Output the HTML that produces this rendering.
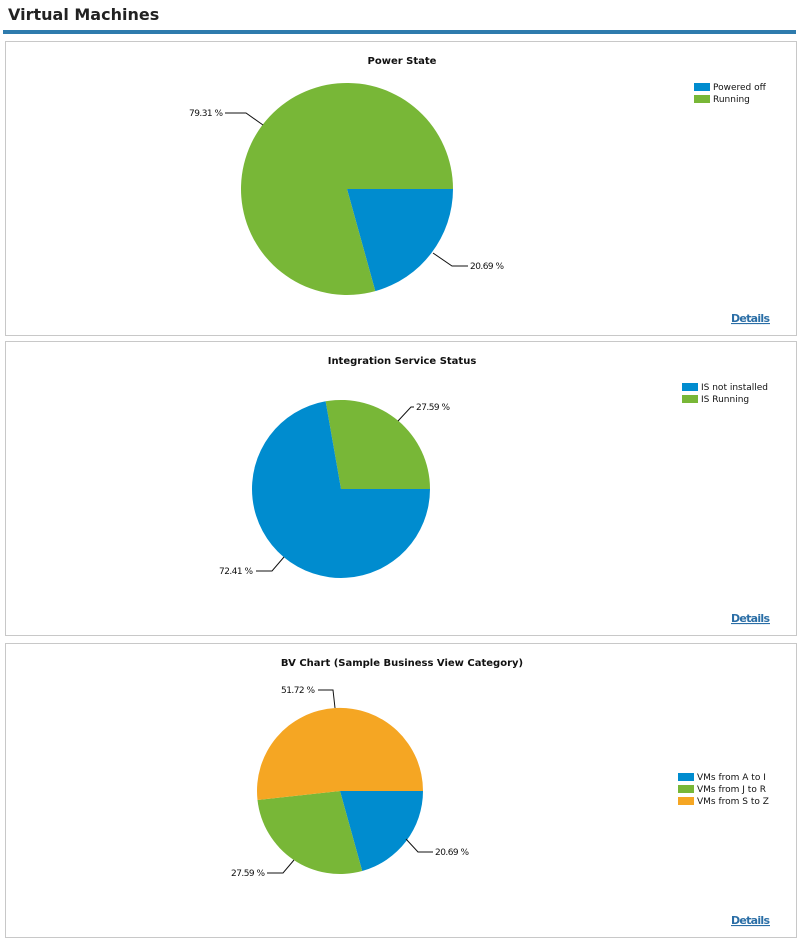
<!DOCTYPE html>
<html><head><meta charset="utf-8"><style>
body{margin:0;background:#fff;}
svg text{font-family:"DejaVu Sans","Liberation Sans",sans-serif;}
</style></head><body>
<svg width="800" height="942" xmlns="http://www.w3.org/2000/svg">
<text x="8" y="20" font-size="16" font-weight="bold" fill="#222" style="font-family:'DejaVu Sans',sans-serif">Virtual Machines</text>
<rect x="3" y="30" width="793" height="4" fill="#2e7bad"/>
<g fill="none" stroke="#c8c8c8">
<rect x="5.5" y="41.5" width="791" height="294"/>
<rect x="5.5" y="341.5" width="791" height="294"/>
<rect x="5.5" y="643.5" width="791" height="294"/>
</g>
<g font-size="10" font-weight="bold" fill="#111" text-anchor="middle">
<text x="402" y="64">Power State</text>
<text x="402" y="364">Integration Service Status</text>
<text x="402" y="666">BV Chart (Sample Business View Category)</text>
</g>
<path d="M347,189 L453,189 A106,106 0 0 1 375.3,291.1 Z" fill="#008ccf"/>
<path d="M347,189 L375.3,291.1 A106,106 0 1 1 453,189 Z" fill="#78b737"/>
<path d="M341,489 L430,489 A89,89 0 0 0 325.6,401.3 Z" fill="#78b737"/>
<path d="M341,489 L325.6,401.3 A89,89 0 1 0 430,489 Z" fill="#008ccf"/>
<path d="M340,791 L423,791 A83,83 0 0 1 362.2,871 Z" fill="#008ccf"/>
<path d="M340,791 L362.2,871 A83,83 0 0 1 257.5,800 Z" fill="#78b737"/>
<path d="M340,791 L257.5,800 A83,83 0 1 1 423,791 Z" fill="#f5a623"/>
<g fill="none" stroke="#111" stroke-width="1">
<polyline points="225,113 246,113 263,125"/>
<polyline points="433,253 452,266 468,266"/>
<polyline points="398,421 411,407 414,407"/>
<polyline points="256,571 272,571 284,557"/>
<polyline points="318,690 333,690 335,708"/>
<polyline points="406,839 418,852 433,852"/>
<polyline points="267,873 283,873 294,860"/>
</g>
<g font-size="9" fill="#111">
<text x="189" y="116" textLength="34">79.31 %</text>
<text x="470" y="269" textLength="34">20.69 %</text>
<text x="416" y="410" textLength="34">27.59 %</text>
<text x="219" y="574" textLength="34">72.41 %</text>
<text x="281" y="693" textLength="34">51.72 %</text>
<text x="435" y="855" textLength="34">20.69 %</text>
<text x="231" y="876" textLength="34">27.59 %</text>
</g>
<g font-size="9" fill="#111">
<rect x="694" y="83" width="16" height="8" fill="#008ccf"/><text x="713" y="90">Powered off</text>
<rect x="694" y="95" width="16" height="8" fill="#78b737"/><text x="713" y="102">Running</text>
<rect x="682" y="383" width="16" height="8" fill="#008ccf"/><text x="701" y="390">IS not installed</text>
<rect x="682" y="395" width="16" height="8" fill="#78b737"/><text x="701" y="402">IS Running</text>
<rect x="678" y="773" width="16" height="8" fill="#008ccf"/><text x="697" y="780">VMs from A to I</text>
<rect x="678" y="785" width="16" height="8" fill="#78b737"/><text x="697" y="792">VMs from J to R</text>
<rect x="678" y="797" width="16" height="8" fill="#f5a623"/><text x="697" y="804">VMs from S to Z</text>
</g>
<g font-size="11" font-weight="bold" fill="#2a6ea6" text-decoration="underline">
<text x="731" y="322" textLength="39">Details</text>
<text x="731" y="622" textLength="39">Details</text>
<text x="731" y="924" textLength="39">Details</text>
</g>
</svg>
</body></html>
